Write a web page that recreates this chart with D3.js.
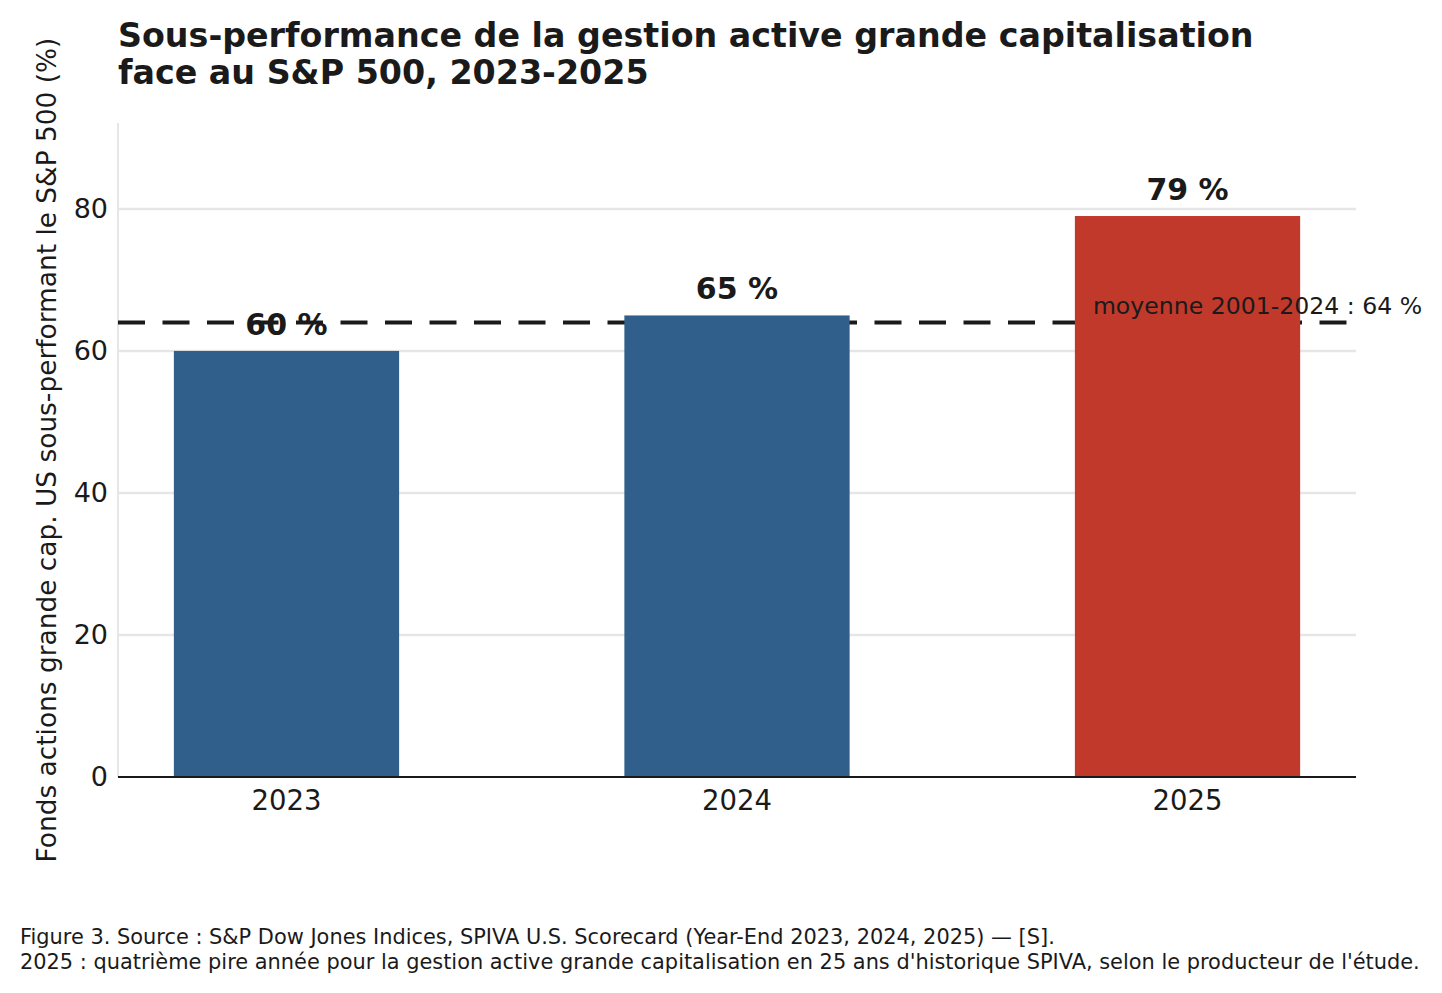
<!DOCTYPE html>
<html>
<head>
<meta charset="utf-8">
<script src="https://cdn.jsdelivr.net/npm/d3@7"></script>
<style>
  html, body { margin: 0; padding: 0; background: #ffffff; }
  svg { display: block; }
  text { font-family: "DejaVu Sans", sans-serif; }
</style>
</head>
<body>
<svg id="chart" width="1442" height="993"></svg>
<script>
const categories = ["2023", "2024", "2025"];
const values = [60, 65, 79];
const barColors = ["#2f5f8a", "#2f5f8a", "#c0392b"];
const valueLabels = ["60 %", "65 %", "79 %"];
const yTicks = [0, 20, 40, 60, 80];
const averageValue = 64;
const averageLabel = "moyenne 2001-2024 : 64 %";
const titleLines = ["Sous-performance de la gestion active grande capitalisation", "face au S&P 500, 2023-2025"];
const yAxisLabel = "Fonds actions grande cap. US sous-performant le S&P 500 (%)";
const footnoteLines = [
  "Figure 3. Source : S&P Dow Jones Indices, SPIVA U.S. Scorecard (Year-End 2023, 2024, 2025) — [S].",
  "2025 : quatrième pire année pour la gestion active grande capitalisation en 25 ans d'historique SPIVA, selon le producteur de l'étude."
];

const svg = d3.select("#chart");
const margin = { left: 118, right: 1356, top: 123, bottom: 777 };
const ink = "#1a1a1a";

const x = d3.scaleBand().domain(categories).range([margin.left, margin.right])
  .paddingInner(0.5).paddingOuter(0.124);
const y = d3.scaleLinear().domain([0, 92.1]).range([margin.bottom, margin.top]);

// grid
svg.append("g").selectAll("line").data(yTicks.filter(d => d > 0)).join("line")
  .attr("x1", margin.left).attr("x2", margin.right)
  .attr("y1", d => y(d)).attr("y2", d => y(d))
  .attr("stroke", "#e6e6e6").attr("stroke-width", 2.5);

// left spine
svg.append("line").attr("x1", margin.left).attr("x2", margin.left)
  .attr("y1", margin.top).attr("y2", margin.bottom)
  .attr("stroke", "#e6e6e6").attr("stroke-width", 2);

// average dashed line
svg.append("line")
  .attr("x1", margin.left).attr("x2", margin.right)
  .attr("y1", y(averageValue)).attr("y2", y(averageValue))
  .attr("stroke", ink).attr("stroke-width", 4)
  .attr("stroke-dasharray", "27 17.5");

// bars
svg.append("g").selectAll("rect").data(values).join("rect")
  .attr("x", (d, i) => x(categories[i]))
  .attr("width", x.bandwidth())
  .attr("y", d => y(d))
  .attr("height", d => y(0) - y(d))
  .attr("fill", (d, i) => barColors[i]);

// bottom axis
const xAxis = d3.axisBottom(x).tickSize(0).tickPadding(13);
const gx = svg.append("g").attr("transform", `translate(0,${margin.bottom})`).call(xAxis);
gx.select(".domain").attr("stroke", ink).attr("stroke-width", 2).attr("d", `M${margin.left},0H${margin.right}`);
gx.selectAll("text").attr("font-size", 27.5).attr("fill", ink).attr("font-family", "DejaVu Sans");

// left axis
const yAxis = d3.axisLeft(y).tickValues(yTicks).tickSize(0).tickPadding(10);
const gy = svg.append("g").attr("transform", `translate(${margin.left},0)`).call(yAxis);
gy.select(".domain").remove();
gy.selectAll("text").attr("font-size", 27).attr("fill", ink).attr("font-family", "DejaVu Sans");

// value labels
svg.append("g").selectAll("text").data(values).join("text")
  .attr("x", (d, i) => x(categories[i]) + x.bandwidth() / 2)
  .attr("y", d => y(d) - 16)
  .attr("text-anchor", "middle")
  .attr("font-size", 30).attr("font-weight", "bold").attr("fill", ink)
  .text((d, i) => valueLabels[i]);

// average label
svg.append("text")
  .attr("x", x(categories[2]) + 18)
  .attr("y", y(averageValue) - 9)
  .attr("font-size", 23.6).attr("fill", ink)
  .text(averageLabel);

// title
svg.append("text").attr("x", 118).attr("y", 46.5)
  .attr("font-size", 33.3).attr("font-weight", "bold").attr("fill", ink)
  .selectAll("tspan").data(titleLines).join("tspan")
  .attr("x", 118).attr("dy", (d, i) => i === 0 ? 0 : 37).text(d => d);

// y label
svg.append("text")
  .attr("transform", `translate(56,${(862 + 38) / 2}) rotate(-90)`)
  .attr("text-anchor", "middle")
  .attr("font-size", 26.4).attr("fill", ink)
  .text(yAxisLabel);

// footnote
svg.append("text").attr("font-size", 20.9).attr("fill", ink)
  .selectAll("tspan").data(footnoteLines).join("tspan")
  .attr("x", 20).attr("y", (d, i) => 944 + i * 25).text(d => d);
</script>
</body>
</html>
